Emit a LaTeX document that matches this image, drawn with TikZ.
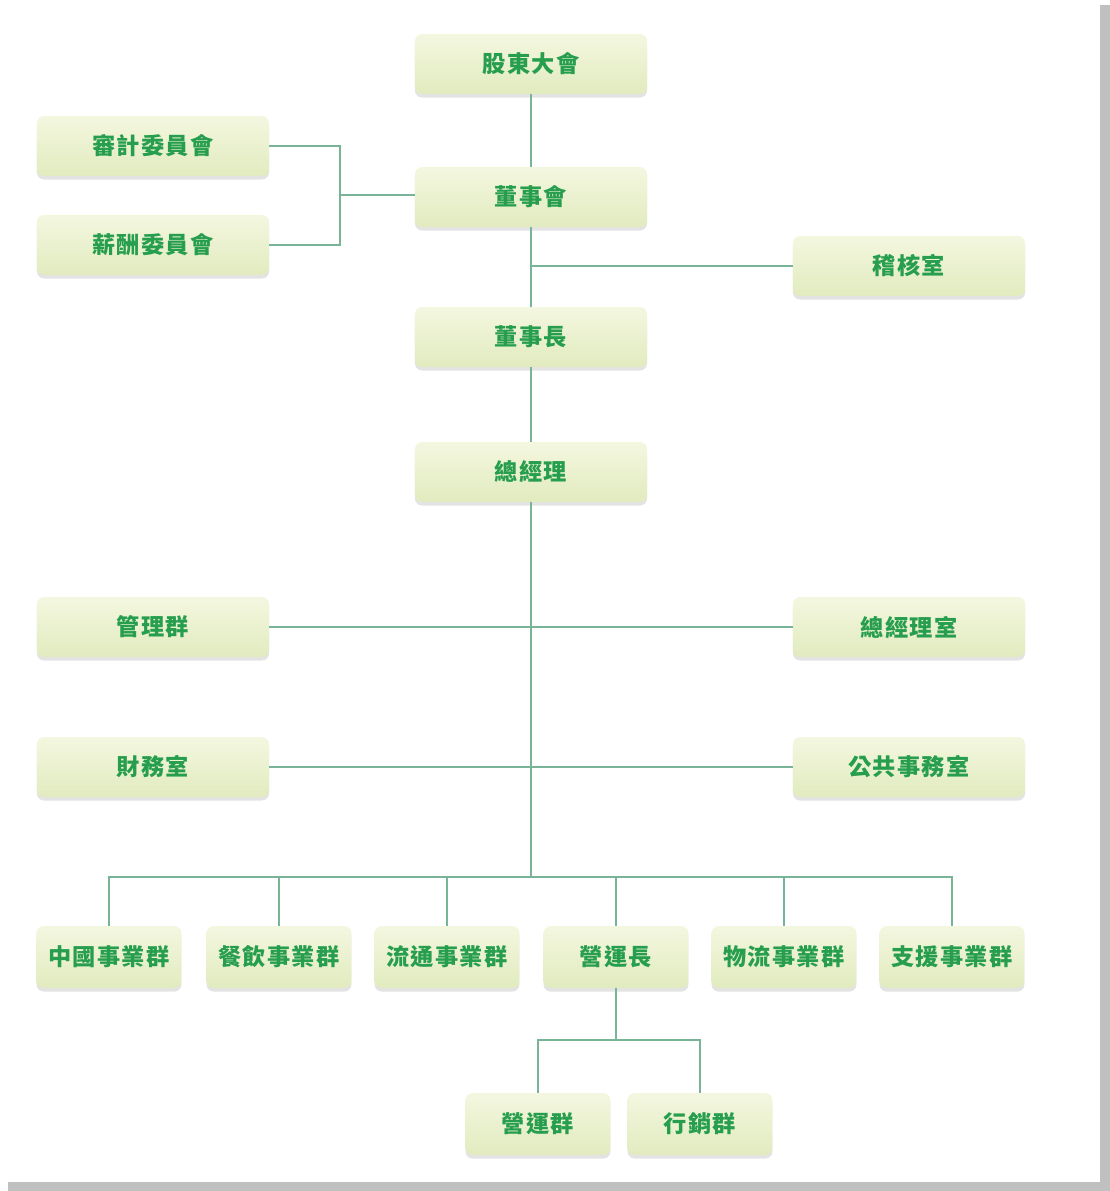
\documentclass[tikz,border=0pt]{standalone}
\usepackage{fontspec}
\usepackage{xcolor}
\usepackage{tikz}
\usetikzlibrary{shadows}
\setmainfont{Noto Sans CJK TC}[LetterSpace=6]
\definecolor{lineColor}{RGB}{122, 180, 152}
\definecolor{textColor}{RGB}{38, 158, 78}
\definecolor{boxTop}{RGB}{244, 247, 224}
\definecolor{boxBottom}{RGB}{225, 235, 190}
\definecolor{frameGray}{RGB}{192, 192, 192}

\begin{document}
\begin{tikzpicture}[x=0.025cm, y=-0.025cm, font=\fontsize{16.5}{19}\selectfont\bfseries,
	orgBox/.style={rounded corners=5pt, top color=boxTop, bottom color=boxBottom, draw=none,
		text=textColor, minimum width=5.8cm, minimum height=1.5cm,
		drop shadow={shadow xshift=0pt, shadow yshift=-2.5pt, opacity=0.18, fill=black!60}},
	unitBox/.style={orgBox, minimum width=3.62cm, minimum height=1.55cm},
	link/.style={draw=lineColor, line width=1.3pt}]
	% Page frame
	\useasboundingbox (0,0) rectangle (1110,1191);
	\fill[frameGray] (1100,5) rectangle (1110,1191);
	\fill[frameGray] (8,1182) rectangle (1110,1191);

	% Top of the chart
	\node[orgBox] (gdh) at (531,64) {股東大會};
	\node[orgBox] (dsh) at (531,197) {董事會};
	\node[orgBox] (sjw) at (153,146) {審計委員會};
	\node[orgBox] (xcw) at (153,245) {薪酬委員會};
	\node[orgBox] (jhs) at (909,266) {稽核室};
	\node[orgBox] (dsz) at (531,337) {董事長};
	\node[orgBox] (zjl) at (531,472) {總經理};

	% Staff units
	\node[orgBox] (glq) at (153,627) {管理群};
	\node[orgBox] (zjs) at (909,627) {總經理室};
	\node[orgBox] (cws) at (153,767) {財務室};
	\node[orgBox] (ggs) at (909,767) {公共事務室};

	% Business groups
	\node[unitBox] (zgq) at (109,957) {中國事業群};
	\node[unitBox] (cyq) at (279,957) {餐飲事業群};
	\node[unitBox] (ltq) at (447,957) {流通事業群};
	\node[unitBox] (yyz) at (616,957) {營運長};
	\node[unitBox] (wlq) at (784,957) {物流事業群};
	\node[unitBox] (zyq) at (952,957) {支援事業群};
	\node[unitBox] (yyq) at (538,1124) {營運群};
	\node[unitBox] (xxq) at (700,1124) {行銷群};

	% Connectors
	\coordinate (cmJoin) at (340,195);
	\coordinate (busTop) at (531,877);
	\coordinate (subBus) at (616,1040);
	\draw[link] (gdh.south) -- (dsh.north);
	\draw[link] (dsh.south) -- (dsz.north);
	\draw[link] (dsz.south) -- (zjl.north);
	\draw[link] (zjl.south) -- (busTop);
	\draw[link] (sjw.east) -| (cmJoin) |- (xcw.east);
	\draw[link] (cmJoin) -- (cmJoin -| dsh.west);
	\draw[link] (jhs.west) -- (jhs.west -| dsh.south);
	\draw[link] (glq.east) -- (zjs.west);
	\draw[link] (cws.east) -- (ggs.west);
	\draw[link] (zgq.north) |- (busTop) -| (zyq.north);
	\draw[link] (cyq.north) -- (cyq.north |- busTop);
	\draw[link] (ltq.north) -- (ltq.north |- busTop);
	\draw[link] (yyz.north) -- (yyz.north |- busTop);
	\draw[link] (wlq.north) -- (wlq.north |- busTop);
	\draw[link] (yyz.south) -- (subBus);
	\draw[link] (yyq.north) |- (subBus) -| (xxq.north);
\end{tikzpicture}
\end{document}
